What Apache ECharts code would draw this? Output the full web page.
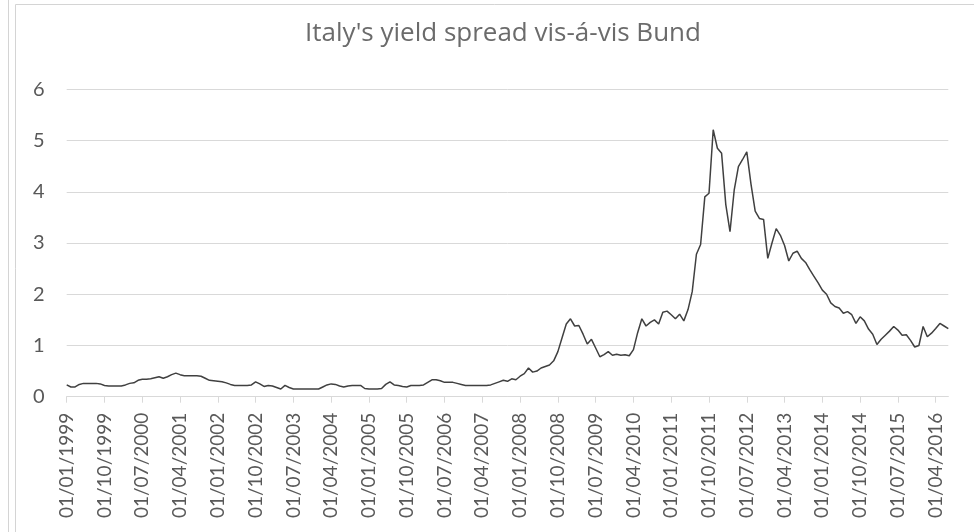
<!DOCTYPE html>
<html>
<head>
<meta charset="utf-8">
<script src="https://cdn.jsdelivr.net/npm/echarts@6/dist/echarts.min.js"></script>
<style>
html,body{margin:0;padding:0;background:#fff;}
#c{width:974px;height:532px;}
</style>
</head>
<body>
<div id="c"></div>
<script>
// Monthly observations, 01/01/1999 .. 01/07/2016
const startYear = 1999;
const monthCount = 211;
const chartTitle = "Italy's yield spread vis-á-vis Bund";
const yTicks = [0, 1, 2, 3, 4, 5, 6];

const spread1999_2003 = [
  0.23, 0.19, 0.19, 0.24, 0.26, 0.26, 0.26, 0.26, 0.25, 0.22, 0.21, 0.21,
  0.21, 0.21, 0.23, 0.26, 0.27, 0.32, 0.34, 0.34, 0.35, 0.37, 0.39, 0.36,
  0.39, 0.43, 0.46, 0.43, 0.41, 0.41, 0.41, 0.41, 0.40, 0.36, 0.32, 0.31,
  0.30, 0.29, 0.27, 0.24, 0.22, 0.22, 0.22, 0.22, 0.23, 0.29, 0.25, 0.20,
  0.22, 0.21, 0.18, 0.15, 0.22, 0.18, 0.15, 0.15, 0.15, 0.15, 0.15, 0.15
];
const spread2004_2008 = [
  0.15, 0.19, 0.23, 0.25, 0.24, 0.21, 0.19, 0.21, 0.22, 0.22, 0.22, 0.16,
  0.15, 0.15, 0.15, 0.16, 0.24, 0.29, 0.23, 0.22, 0.20, 0.19, 0.22, 0.22,
  0.22, 0.23, 0.28, 0.33, 0.33, 0.31, 0.28, 0.28, 0.28, 0.26, 0.24, 0.22,
  0.22, 0.22, 0.22, 0.22, 0.22, 0.23, 0.26, 0.29, 0.32, 0.30, 0.35, 0.33,
  0.40, 0.45, 0.56, 0.48, 0.50, 0.56, 0.59, 0.62, 0.70, 0.88, 1.15, 1.42
];
const spread2009_2013 = [
  1.52, 1.38, 1.39, 1.22, 1.03, 1.12, 0.95, 0.78, 0.82, 0.88, 0.81, 0.83,
  0.81, 0.82, 0.80, 0.92, 1.25, 1.52, 1.38, 1.45, 1.50, 1.42, 1.65, 1.67,
  1.60, 1.52, 1.61, 1.48, 1.70, 2.05, 2.78, 2.97, 3.90, 3.97, 5.21, 4.85,
  4.75, 3.75, 3.22, 4.03, 4.49, 4.63, 4.78, 4.15, 3.62, 3.48, 3.46, 2.70,
  3.00, 3.28, 3.15, 2.95, 2.65, 2.80, 2.84, 2.70, 2.62, 2.48, 2.35, 2.22
];
const spread2014_2016 = [
  2.08, 2.00, 1.83, 1.76, 1.73, 1.63, 1.66, 1.60, 1.43, 1.56, 1.48, 1.32,
  1.22, 1.02, 1.12, 1.20, 1.28, 1.37, 1.30, 1.20, 1.21, 1.10, 0.97, 1.00,
  1.37, 1.17, 1.24, 1.33, 1.43, 1.38, 1.33
];
const spread = [].concat(spread1999_2003, spread2004_2008, spread2009_2013, spread2014_2016);

const categories = [];
for (let i = 0; i < monthCount; i++) {
  const y = startYear + Math.floor(i / 12);
  const m = (i % 12) + 1;
  categories.push('01/' + (m < 10 ? '0' + m : m) + '/' + y);
}

const chart = echarts.init(document.getElementById('c'), null, {renderer: 'canvas'});
chart.setOption({
  animation: false,
  backgroundColor: '#ffffff',
  title: {
    text: chartTitle,
    left: 498,
    top: 16,
    textAlign: 'center',
    textStyle: {fontFamily: 'Open Sans', fontSize: 26, fontWeight: 'normal', color: '#6b6b6b'}
  },
  graphic: [
    {type: 'line', shape: {x1: 8.5, y1: 0, x2: 8.5, y2: 532}, style: {stroke: '#d4d4d4', lineWidth: 1}},
    {type: 'line', shape: {x1: 15.5, y1: 4.5, x2: 15.5, y2: 532}, style: {stroke: '#d4d4d4', lineWidth: 1}},
    {type: 'line', shape: {x1: 15.5, y1: 4.5, x2: 974, y2: 4.5}, style: {stroke: '#d4d4d4', lineWidth: 1}},
    {type: 'text', left: 172, top: -17.5, style: {text: 'Figure 1: Italy\u2019s 10-year government bond yield spread', font: '18px "Liberation Serif"', fill: '#000'}}
  ],
  grid: {left: 66.7, right: 25.7, top: 89.3, bottom: 135.3, containLabel: false},
  xAxis: {
    type: 'category',
    data: categories,
    boundaryGap: false,
    axisLine: {lineStyle: {color: '#d9d9d9', width: 1}},
    axisTick: {show: true, interval: 8, length: 6, lineStyle: {color: '#d9d9d9'}},
    axisLabel: {interval: 8, rotate: 90, margin: 16, fontFamily: 'Lato', fontSize: 19, color: '#595959'},
    splitLine: {show: false}
  },
  yAxis: {
    type: 'value',
    min: yTicks[0],
    max: yTicks[yTicks.length - 1],
    interval: 1,
    axisLine: {show: false},
    axisTick: {show: false},
    axisLabel: {margin: 22, fontFamily: 'Lato', fontSize: 20, color: '#595959'},
    splitLine: {lineStyle: {color: '#d9d9d9', width: 1}}
  },
  series: [{
    type: 'line',
    data: spread,
    symbol: 'none',
    lineStyle: {color: '#404040', width: 1.5},
    z: 3
  }]
});
</script>
</body>
</html>
